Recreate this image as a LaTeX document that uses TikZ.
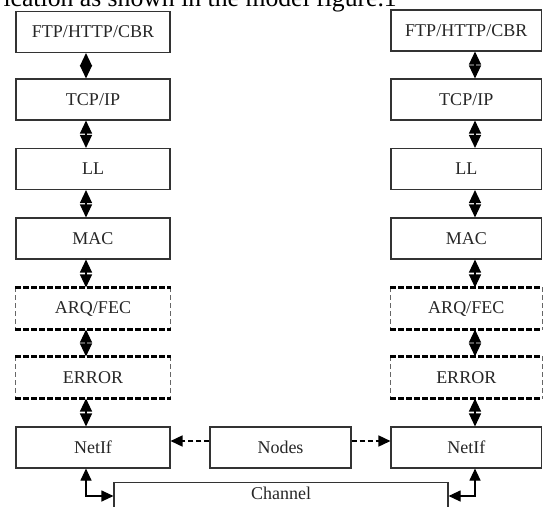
\documentclass[tikz,border=0pt]{standalone}
\usepackage{fontspec}
\setmainfont{Liberation Serif}
\usetikzlibrary{arrows.meta}
\tikzset{
  layer/.style={draw=black!80, line width=1.1pt, minimum height=41pt, inner sep=0pt,
    font=\fontsize{18}{20}\selectfont, text=black!85},
  lcol/.style={minimum width=154pt},
  rcol/.style={minimum width=150.5pt},
  soft/.style={layer, draw=none},
  dashtop/.style={draw=black, line width=2.4pt, dash pattern=on 5.5pt off 2.5pt},
  dashside/.style={draw=black!60, line width=0.9pt, dash pattern=on 5pt off 3pt},
  dbl/.style={line width=1.3pt, {Triangle[length=13pt,width=12pt]}-{Triangle[length=13pt,width=12pt]}},
  link/.style={line width=1.1pt, {Triangle[length=12pt,width=11pt]}-{Triangle[length=12pt,width=11pt]}},
  dasharr/.style={line width=1.6pt, dash pattern=on 5pt off 3pt, -{Triangle[length=12pt,width=11pt]}},
}
\begin{document}
\begin{tikzpicture}[x=1pt,y=-1pt]
\useasboundingbox (0,0) rectangle (543,506);
\clip (0,0) rectangle (543,506);
\node[anchor=base east, font=\fontsize{25.7}{30}\selectfont, inner sep=0pt] (caption) at (397,6) {ication as shown in the model figure.1};
% left column
\node[layer,lcol] (ftpL) at (93,32) {FTP/HTTP/CBR};
\node[layer,lcol] (tcpL) at (93,99.5) {TCP/IP};
\node[layer,lcol] (llL) at (93,169) {LL};
\node[layer,lcol] (macL) at (93,238.5) {MAC};
\node[soft,lcol] (arqL) at (93,308.5) {ARQ/FEC};
\node[soft,lcol] (errL) at (93,377.5) {ERROR};
\node[layer,lcol] (netL) at (93,447.5) {NetIf};
% right column
\node[layer,rcol] (ftpR) at (466.25,30.5) {FTP/HTTP/CBR};
\node[layer,rcol] (tcpR) at (466.25,99.5) {TCP/IP};
\node[layer,rcol] (llR) at (466.25,169) {LL};
\node[layer,rcol] (macR) at (466.25,238.5) {MAC};
\node[soft,rcol] (arqR) at (466.25,308.5) {ARQ/FEC};
\node[soft,rcol] (errR) at (466.25,377.5) {ERROR};
\node[layer,rcol] (netR) at (466.25,447.5) {NetIf};
% middle
\node[layer, minimum width=141pt] (nodes) at (280.5,447.5) {Nodes};
\node[layer, anchor=north, minimum width=334pt, minimum height=0pt, inner ysep=0pt,
      text height=17pt, text depth=23pt] (channel) at (281,482) {Channel};
% dashed boxes
\foreach \n in {arqL,errL,arqR,errR}{
  \draw[dashside] (\n.north west) -- (\n.south west);
  \draw[dashside] (\n.north east) -- (\n.south east);
  \draw[dashtop] (\n.north west) -- (\n.north east);
  \draw[dashtop] (\n.south west) -- (\n.south east);
}
% arrow columns
\coordinate (xL) at (86,0);
\coordinate (xR) at (475,0);
\coordinate (cb) at (0,496);
\coordinate (ya) at (0,441);
\draw[dbl] (ftpL.south -| xL) -- (tcpL.north -| xL);
\draw[dbl] (tcpL.south -| xL) -- (llL.north -| xL);
\draw[dbl] (llL.south -| xL) -- (macL.north -| xL);
\draw[dbl] (macL.south -| xL) -- (arqL.north -| xL);
\draw[dbl] (arqL.south -| xL) -- (errL.north -| xL);
\draw[dbl] (errL.south -| xL) -- (netL.north -| xL);
\draw[dbl] (ftpR.south -| xR) -- (tcpR.north -| xR);
\draw[dbl] (tcpR.south -| xR) -- (llR.north -| xR);
\draw[dbl] (llR.south -| xR) -- (macR.north -| xR);
\draw[dbl] (macR.south -| xR) -- (arqR.north -| xR);
\draw[dbl] (arqR.south -| xR) -- (errR.north -| xR);
\draw[dbl] (errR.south -| xR) -- (netR.north -| xR);
% nodes to netifs
\draw[dasharr] (nodes.west |- ya) -- (netL.east |- ya);
\draw[dasharr] (nodes.east |- ya) -- (netR.west |- ya);
% netifs to channel
\draw[link] (netL.south -| xL) -- (xL |- cb) -- (channel.west |- cb);
\draw[link] (netR.south -| xR) -- (xR |- cb) -- (channel.east |- cb);
\end{tikzpicture}
\end{document}
